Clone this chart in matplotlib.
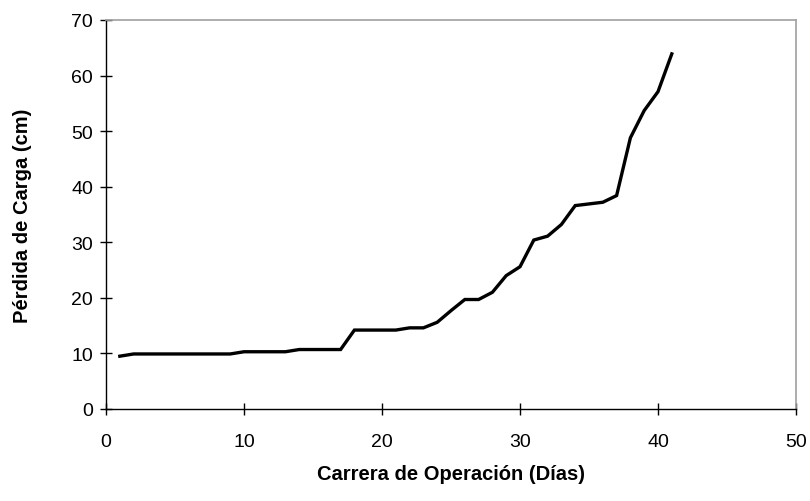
import numpy as np
import matplotlib.pyplot as plt

plt.rcParams['font.family'] = ['Liberation Sans', 'DejaVu Sans']

# Pérdida de carga del filtro por día de operación
dias = list(range(1, 42))
perdida = [9.5, 9.9, 9.9, 9.9, 9.9, 9.9, 9.9, 9.9, 9.9, 10.3,
           10.3, 10.3, 10.3, 10.7, 10.7, 10.7, 10.7, 14.2, 14.2, 14.2,
           14.2, 14.6, 14.6, 15.6, 17.7, 19.7, 19.7, 21.0, 24.0, 25.6,
           30.4, 31.1, 33.2, 36.6, 36.9, 37.2, 38.4, 48.8, 53.7, 57.1,
           63.9]

fig = plt.figure(figsize=(8.1, 5.02), dpi=100)
ax = fig.add_axes([0.1309, 0.1833, 0.8518, 0.7749])

ax.plot(dias, perdida, color='black', linewidth=2.4, solid_joinstyle='miter')

ax.set_xlim(0, 50)
ax.set_ylim(0, 70)
ax.set_xticks(np.arange(0, 51, 10))
ax.set_yticks(np.arange(0, 71, 10))
ax.tick_params(direction='inout', length=8.6, width=1, labelsize=14)
ax.tick_params(axis='x', pad=13)
ax.tick_params(axis='y', pad=5)

for side in ['top', 'right']:
    ax.spines[side].set_color('#a0a0a0')
    ax.spines[side].set_linewidth(1.2)
for side in ['left', 'bottom']:
    ax.spines[side].set_color('black')
    ax.spines[side].set_linewidth(1)

ax.set_xlabel('Carrera de Operación (Días)', fontsize=14.5, fontweight='bold', labelpad=10)
ax.set_ylabel('Pérdida de Carga (cm)', fontsize=14.5, fontweight='bold', labelpad=28)

fig.savefig('out.png', dpi=100)
